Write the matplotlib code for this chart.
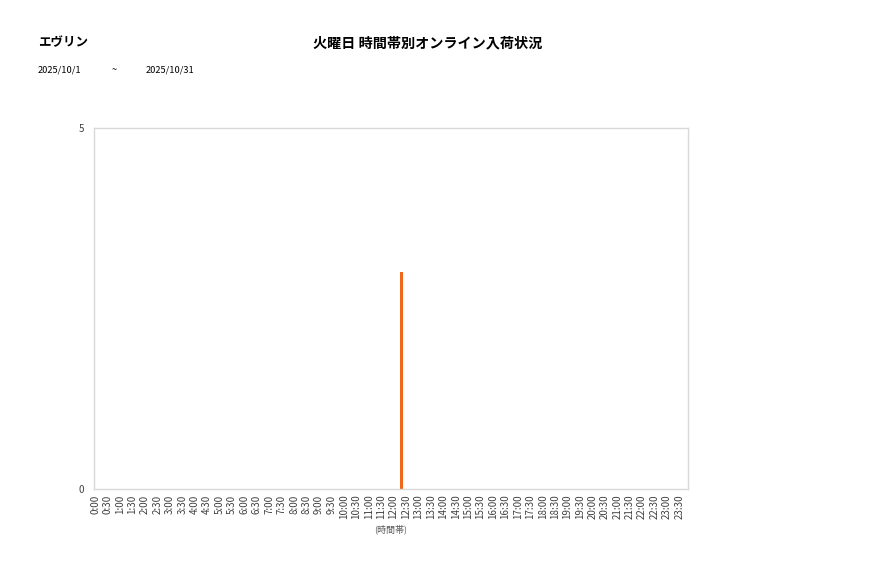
import matplotlib
matplotlib.use("Agg")
import matplotlib.pyplot as plt

plt.rcParams['font.family'] = ['Noto Sans CJK JP', 'DejaVu Sans']

store = "エヴリン"
title = "火曜日 時間帯別オンライン入荷状況"
date_from = "2025/10/1"
date_sep = "~"
date_to = "2025/10/31"
xlabel = "(時間帯)"
categories = [f"{h}:{m:02d}" for h in range(24) for m in (0, 30)]
values = [0] * 48
values[categories.index("12:30")] = 3
yticks = [0, 5]

W, H = 877, 578
fig = plt.figure(figsize=(W / 100, H / 100), dpi=100)
ax = fig.add_axes([94 / W, (H - 489) / H, 594 / W, 361 / H])

xs = [i - 0.35 for i in range(len(categories))]
ax.bar(xs, values, width=0.25, color='#F0671C', linewidth=0)

ax.set_xlim(-0.1, 47.7)
ax.set_ylim(0, 5)
ax.set_yticks(yticks)
ax.set_yticklabels([str(v) for v in yticks], fontsize=7, color='#404040')
ax.set_xticks(range(len(categories)))
ax.set_xticklabels(categories, rotation=90, fontsize=7, color='#404040')
ax.tick_params(axis='both', length=0, pad=4)
ax.tick_params(axis='y', pad=7)
for s in ax.spines.values():
    s.set_color('#D9D9D9')
    s.set_linewidth(1)
ax.set_xlabel(xlabel, fontsize=6.5, color='#595959', labelpad=4)

fig.text(38 / W, 1 - 43 / H, store, fontsize=9, fontweight='bold', va='center', ha='left')
fig.text(428 / W, 1 - 43 / H, title, fontsize=10.2, fontweight='bold', va='center', ha='center')
fig.text(38 / W, 1 - 70 / H, date_from, fontsize=6.7, va='center', ha='left')
fig.text(112 / W, 1 - 70 / H, date_sep, fontsize=6.7, va='center', ha='left')
fig.text(146 / W, 1 - 70 / H, date_to, fontsize=6.7, va='center', ha='left')

fig.savefig("out.png", dpi=100)
